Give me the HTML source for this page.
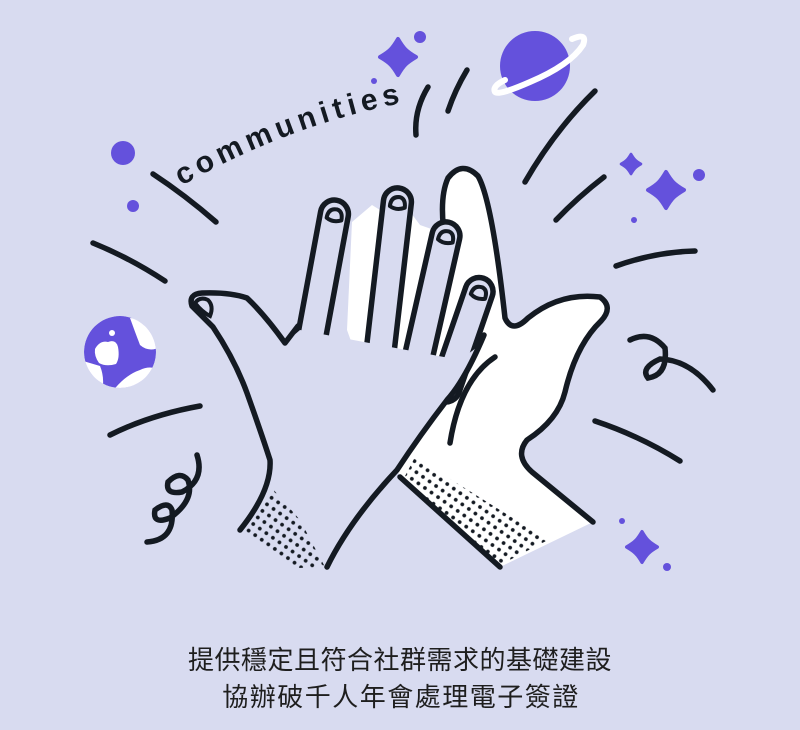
<!DOCTYPE html>
<html><head><meta charset="utf-8"><style>
html,body{margin:0;padding:0;background:#d8dbf0;}
svg{display:block}
</style></head><body>
<svg width="800" height="730" viewBox="0 0 800 730">
<defs>
<pattern id="dots" width="8" height="8" patternUnits="userSpaceOnUse" patternTransform="rotate(35)">
<circle cx="4" cy="4" r="1.9" fill="#141a22"/>
</pattern>
<clipPath id="globeclip"><circle cx="120" cy="352" r="36"/></clipPath>
<path id="star" d="M0,-0.9 C0.28,-0.42 0.42,-0.28 0.9,0 C0.42,0.28 0.28,0.42 0,0.9 C-0.28,0.42 -0.42,0.28 -0.9,0 C-0.42,-0.28 -0.28,-0.42 0,-0.9Z"/>
<path id="txtpath" d="M178,188 Q292,122 418,100"/>
</defs>
<rect width="800" height="730" fill="#d8dbf0"/>

<g fill="none" stroke="#141a22" stroke-width="5.5" stroke-linecap="round">
<path d="M153,174 Q185,195 216,222"/>
<path d="M93,243 Q130,258 165,281"/>
<path d="M416,135 Q414,110 428,87"/>
<path d="M448,111 Q455,90 467,70"/>
<path d="M525,182 Q555,130 595,91"/>
<path d="M556,220 Q578,197 604,177"/>
<path d="M616,266 Q655,252 695,251"/>
<path d="M110,435 Q150,415 200,406"/>
<path d="M595,421 Q640,436 680,461"/>
<path d="M630,340 Q650,330 665,348 Q668,375 648,378 Q640,368 660,359 Q690,360 713,390"/>
<path d="M147,542 Q175,540 172,510 Q168,500 155,510 Q152,525 170,518 Q195,500 188,480 Q180,470 168,482 Q165,495 182,492 Q205,480 197,455"/>
</g>

<g fill="#6451dc" stroke="#6451dc" stroke-linejoin="round">
<use href="#star" transform="translate(398,57) scale(20)" stroke-width="0.2"/>
<use href="#star" transform="translate(631,164) scale(11)" stroke-width="0.25"/>
<use href="#star" transform="translate(666,190) scale(20)" stroke-width="0.2"/>
<use href="#star" transform="translate(642,547) scale(17)" stroke-width="0.2"/>
<circle cx="123" cy="153" r="12" stroke="none"/>
<circle cx="133" cy="206" r="6" stroke="none"/>
<circle cx="420" cy="37" r="6" stroke="none"/>
<circle cx="374" cy="81" r="3" stroke="none"/>
<circle cx="699" cy="175" r="6" stroke="none"/>
<circle cx="634" cy="220" r="3" stroke="none"/>
<circle cx="622" cy="521" r="3" stroke="none"/>
<circle cx="667" cy="567" r="4" stroke="none"/>
</g>

<g>
<circle cx="535" cy="66" r="35" fill="#6451dc"/>
<path d="M572,39 Q588,32 583,45 Q570,65 530,82 Q498,96 495,92 Q492,86 505,80" fill="none" stroke="#ffffff" stroke-width="6" stroke-linecap="round"/>
</g>

<g clip-path="url(#globeclip)">
<circle cx="120" cy="352" r="36" fill="#6451dc"/>
<path d="M130,318 Q150,318 160,340 L158,348 Q148,352 140,345 Q135,332 130,318Z" fill="#ffffff"/>
<path d="M80,360 L100,366 Q105,378 102,392 L80,392Z" fill="#ffffff"/>
<path d="M112,392 Q125,375 140,370 Q150,365 160,370 L160,392Z" fill="#ffffff"/>
<path d="M95,349 Q100,340 108,342 Q116,339 118,347 Q120,358 116,364 Q106,367 99,363 Q94,356 95,349Z" fill="#ffffff"/>
<circle cx="112" cy="333" r="3" fill="#fff"/>
</g>

<text font-family="'Liberation Sans', sans-serif" font-weight="bold" font-size="30" fill="#141a22" letter-spacing="5"><textPath href="#txtpath" startOffset="4">communities</textPath></text>

<g>
<path d="M347,330 L352,222 L372,205 L380,210 L405,205 L420,225 L440,232 L446,245 Q438,200 448,178 Q462,160 478,176 Q492,200 505,318 Q512,334 528,318 Q560,292 600,297 Q614,307 601,321 Q576,345 565,392 Q558,420 527,440 Q514,456 532,472 L593,522 L500,567 L400,477 Z" fill="#ffffff"/>
<path d="M446,245 Q438,200 448,178 Q462,160 478,176 Q492,200 505,318 Q512,334 528,318 Q560,292 600,297 Q614,307 601,321 Q576,345 565,392 Q558,420 527,440 Q514,456 532,472 L593,522" fill="none" stroke="#141a22" stroke-width="5.5" stroke-linecap="round" stroke-linejoin="round"/>
<path d="M400,477 L500,567" stroke="#141a22" stroke-width="5.5" stroke-linecap="round"/>
<path d="M495,357 Q460,380 450,443" fill="none" stroke="#141a22" stroke-width="5.5" stroke-linecap="round"/>
<polygon points="403,480 415,457 548,540 500,565" fill="url(#dots)"/>
</g>

<g fill="#d8dbf0" stroke="#141a22" stroke-width="5.5" stroke-linejoin="round">
<g transform="translate(312,335) rotate(10.5)"><rect x="-14" y="-137" width="28" height="170" rx="14"/><path d="M-7,-118 Q-7,-128 2,-128 Q8,-127 8,-118 Q0,-114 -7,-118Z" stroke-width="4"/></g>
<g transform="translate(382,335) rotate(6.6)"><rect x="-14" y="-148" width="28" height="180" rx="14"/><path d="M-7,-129 Q-7,-139 2,-139 Q8,-138 8,-129 Q0,-125 -7,-129Z" stroke-width="4"/></g>
<g transform="translate(420,350) rotate(12.8)"><rect x="-14" y="-131" width="28" height="160" rx="14"/><path d="M-7,-112 Q-7,-122 2,-122 Q8,-121 8,-112 Q0,-108 -7,-112Z" stroke-width="4"/></g>
<g transform="translate(452,370) rotate(19)"><rect x="-14" y="-97" width="28" height="130" rx="14"/><path d="M-7,-78 Q-7,-88 2,-88 Q8,-87 8,-78 Q0,-74 -7,-78Z" stroke-width="4"/></g>
</g>

<g>
<path d="M240,530 Q272,490 270,460 Q262,435 247,393 Q235,360 213,327 L192,306 Q188,294 202,293 Q230,292 247,298 Q265,315 285,343 L300,330 L460,360 L480,345 Q465,380 447,400 Q420,435 397,470 Q350,520 327,567 L240,567 Z" fill="#d8dbf0"/>
<path d="M240,530 Q272,490 270,460 Q262,435 247,393 Q235,360 213,327 L192,306 Q188,294 202,293 Q230,292 247,298 Q265,315 285,343 L298,326" fill="none" stroke="#141a22" stroke-width="5.5" stroke-linecap="round" stroke-linejoin="round"/>
<path d="M484,335 Q465,380 447,400 Q420,435 397,470 Q350,520 327,567" fill="none" stroke="#141a22" stroke-width="5.5" stroke-linecap="round"/>
<path d="M195,303 Q200,296 208,300 Q214,306 210,316 Q202,312 195,303Z" fill="#d8dbf0" stroke="#141a22" stroke-width="4"/>
<polygon points="244,532 272,488 300,520 325,567 298,568" fill="url(#dots)"/>
</g>

<g font-family="'Liberation Sans','Noto Sans CJK TC',sans-serif" font-size="26" fill="#1e1e1e" text-anchor="middle">
<text x="400" y="669" letter-spacing="0.5">提供穩定且符合社群需求的基礎建設</text>
<text x="401" y="706" letter-spacing="1.5">協辦破千人年會處理電子簽證</text>
</g>
</svg>
</body></html>
